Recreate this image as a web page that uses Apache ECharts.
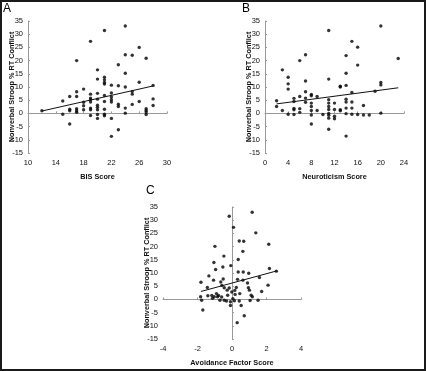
<!DOCTYPE html>
<html>
<head>
<meta charset="utf-8">
<title>Nonverbal Stroop scatter</title>
<script src="https://cdn.jsdelivr.net/npm/echarts@6/dist/echarts.min.js"></script>
<style>
  html, body { margin: 0; padding: 0; background: #fff; }
  #wrap { position: relative; width: 426px; height: 371px; }
  #chart { width: 426px; height: 371px; }
  #frame { position: absolute; left: 0; top: 0; width: 426px; height: 371px;
           box-sizing: border-box; border: 2px solid #1a1a1a; pointer-events: none; }
</style>
</head>
<body>
<div id="wrap">
  <div id="chart"></div>
  <div id="frame"></div>
</div>
<script type="text/javascript">
// panel A: BIS score vs conflict
var bisX = [12, 15,15, 16,16,16,16, 17,17,17,17,17,17, 18,18,18,18,
  19,19,19,19,19,19,19,19, 20,20,20,20,20,20,20,20,20,
  21,21,21,21,21,21,21,21,21,21, 22,22,22,22,22,22,22,
  23,23,23,23,23, 24,24,24,24,24,24, 25,25,25,25, 26,26,26,
  27,27,27,27,27, 28,28,28];
var bisY = [1.0, 4.7,-0.3, 6.4,1.6,1.0,-4.0, 20,8.2,6.4,1.8,1.0,0.4, 9.2,4.2,2.9,1.4,
  27.3,7.3,5.8,5.2,4.3,2.0,1.4,-0.8, 16.5,13,7.6,5.4,3.1,2.3,1.4,-0.4,-1.9,
  31.4,13.7,12.7,11.7,11.1,6.8,4.5,1.6,-0.3,-0.9, 10.7,7.7,6.2,5.2,4.3,-1.9,-8.7,
  18.4,10.5,3.5,2.6,-6.2, 33.1,22.2,15.2,10,2,0.1, 22,8.3,7.3,3.4, 25,11.8,4.5,
  20.9,1.8,1.1,0.5,-0.4, 10.6,5.5,3];
var bisTrend = [[12, 0.9], [28, 10.4]];

// panel B: neuroticism score vs conflict
var neuroX = [2,2, 3,3, 4,4,4,4, 5,5,5,5,5, 6,6,6,6, 7,7,7,7,7, 8,8,8,8,8,8,8,
  9,9, 10, 11,11,11,11,11,11,11,11,11,11, 12,12,12,12, 13,13,13,13,
  14,14,14,14,14,14,14,14, 15,15,15,15,15, 16,16,16, 17,17, 18, 19,
  20,20,20,20, 23];
var neuroY = [4.8,2.6, 16.5,1.1, 13.7,11.2,9.2,-0.3, 5.7,4.5,1.9,1.4,-0.4, 20,6.4,1.8,0.4,
  22.2,12.3,8.2,5.8,4.2, 7.2,6.7,3.9,2.6,1.1,-0.6,-4, 6.4,1.1, -0.4,
  31.4,13,5.2,3.9,2.6,1.5,0.0,-0.7,-1.8,-6.0, 3.9,1.5,-1.1,-2, 10.3,10,1.4,1,
  21.9,15.2,10.6,5.4,4.3,2.0,-0.1,-8.6, 27.3,7.9,4.3,2.0,-0.3, 25.1,18.3,-0.4, 3,-0.6, -0.6, 8.4,
  33.1,11.7,10.8,0.1, 20.8];
var neuroTrend = [[2, 3.6], [23, 9.7]];

// panel C: avoidance factor score vs conflict
var avoidX = [-0.16,1.17,0.09,1.38,0.42,0.68,2.13,-0.99,0.63,-0.47,0.36,-1.05,-0.07,-0.53,
  -0.95,2.17,2.57,0.36,0.65,0.97,1.59,-0.51,0.32,0.63,-1.07,-0.65,0.9,2.09,-0.59,-0.45,
  -0.16,0.95,-0.28,1.01,0.16,-0.01,1.72,0.18,1.11,1.18,-0.84,-1.03,-1.13,-0.7,-0.45,
  -0.32,-0.09,-0.09,0.14,0.42,0.53,1.51,0.71,0.3, -1.8,-1.69,-1.43,-1.34,-1.82,-1.76,
  -1.4,-1.17, -0.78,-0.6,-0.25,0.25,0.45,0.05,-0.9,1.05];
var avoidY = [31.5,33.0,27.3,25.2,22.1,22.0,20.9,20.1,18.2,16.4,15.1,14.0,12.8,12.3,
  11.3,11.7,10.7,10.4,10.4,9.9,8.3,7.7,7.6,7.3,7.3,6.6,6.2,5.4,5.3,4.4,
  4.3,4.4,3.5,3.5,3.4,2.8,3.0,1.9,1.6,1.0,1.0,1.0,0.4,-0.3,-0.3,
  -0.6,-0.9,-2.3,-0.5,-0.6,-2.3,-0.3,-6.2,-8.8, 6.5,-4.0,4.5,8.9,1.0,-0.3,
  1.4,1.5, 1.5,0.9,1.6,4.5,2.2,0.3,2.2,-0.4];
var avoidTrend = [[-1.8, 3.0], [2.6, 10.8]];

var bisTicks = [10, 14, 18, 22, 26, 30];

var font = 'Liberation Sans, Arial, sans-serif';
var yName = 'Nonverbal Stroop % RT Conflict';

function pairs(xs, ys) {
    var out = [];
    for (var i = 0; i < xs.length; i++) out.push([xs[i], ys[i]]);
    return out;
}

function xAx(idx, min, max, interval, name) {
    return {
        type: 'value', gridIndex: idx, min: min, max: max, interval: interval,
        name: name, nameLocation: 'middle', nameGap: 20, nameMoveOverlap: false,
        nameTextStyle: { fontFamily: font, fontSize: 7.3, fontWeight: 'bold', color: '#111' },
        axisLine: { show: true, lineStyle: { color: '#999', width: 1 } },
        axisTick: { show: true, inside: true, length: 2, lineStyle: { color: '#999' } },
        axisLabel: { fontFamily: font, fontSize: 7.5, color: '#111', margin: 6 },
        splitLine: { show: false }
    };
}

function yAx(idx) {
    return {
        type: 'value', gridIndex: idx, min: -15, max: 35, interval: 5,
        name: yName, nameLocation: 'middle', nameGap: 13, nameRotate: 90, nameMoveOverlap: false,
        nameTextStyle: { fontFamily: font, fontSize: 7.3, fontWeight: 'bold', color: '#111' },
        axisLine: { show: true, lineStyle: { color: '#999', width: 1 } },
        axisTick: { show: true, inside: true, length: 2, lineStyle: { color: '#999' } },
        axisLabel: { fontFamily: font, fontSize: 7.5, color: '#111', margin: 5 },
        splitLine: { show: false }
    };
}

var xA = xAx(0, 10, 30, 4, 'BIS Score');
// ticks at 10,14,...,30 (min is not a multiple of 4)
xA.axisLabel.customValues = bisTicks;
xA.axisTick.customValues = bisTicks;

function dots(idx, xs, ys) {
    return { type: 'scatter', xAxisIndex: idx, yAxisIndex: idx, data: pairs(xs, ys),
        symbol: 'circle', symbolSize: 3.4, itemStyle: { color: '#000' }, silent: true };
}
function fit(idx, d) {
    return { type: 'line', xAxisIndex: idx, yAxisIndex: idx, data: d, symbol: 'none',
        lineStyle: { color: '#111', width: 1 }, silent: true, z: 3 };
}

var myChart = echarts.init(document.getElementById('chart'), null, { renderer: 'canvas' });

var option = {
    backgroundColor: '#fff',
    animation: false,
    title: [
        { text: 'A', left: 3, top: 3, padding: 0, textStyle: { fontFamily: font, fontSize: 12, fontWeight: 'normal', color: '#000' } },
        { text: 'B', left: 242, top: 3, padding: 0, textStyle: { fontFamily: font, fontSize: 12, fontWeight: 'normal', color: '#000' } },
        { text: 'C', left: 146, top: 185, padding: 0, textStyle: { fontFamily: font, fontSize: 12, fontWeight: 'normal', color: '#000' } }
    ],
    grid: [
        { left: 28, top: 21, width: 139, height: 132 },
        { left: 265, top: 21, width: 139, height: 132 },
        { left: 163, top: 207, width: 138, height: 132 }
    ],
    xAxis: [
        xA,
        xAx(1, 0, 24, 4, 'Neuroticism Score'),
        xAx(2, -4, 4, 2, 'Avoidance Factor Score')
    ],
    yAxis: [yAx(0), yAx(1), yAx(2)],
    series: [
        dots(0, bisX, bisY), fit(0, bisTrend),
        dots(1, neuroX, neuroY), fit(1, neuroTrend),
        dots(2, avoidX, avoidY), fit(2, avoidTrend)
    ]
};
myChart.setOption(option);
</script>
</body>
</html>
